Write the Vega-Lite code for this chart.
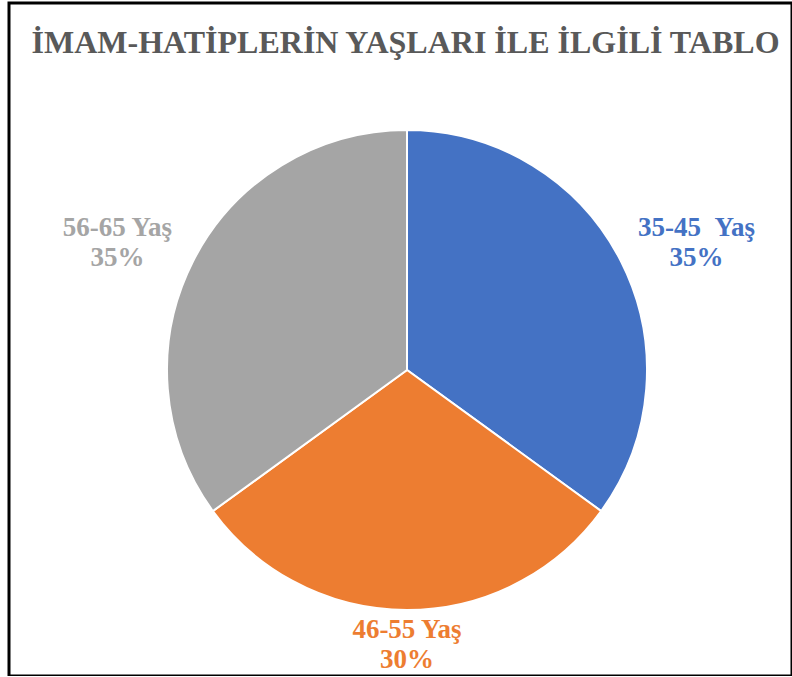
{
  "$schema": "https://vega.github.io/schema/vega-lite/v6.json",
  "width": 783,
  "height": 673,
  "autosize": "none",
  "padding": {"left": 9, "top": 3, "right": 0, "bottom": 0},
  "background": "white",
  "view": {"stroke": null},
  "title": {
    "text": "İMAM-HATİPLERİN YAŞLARI İLE İLGİLİ TABLO",
    "font": "Liberation Serif",
    "fontSize": 32,
    "fontWeight": "bold",
    "color": "#595959",
    "anchor": "middle",
    "frame": "group",
    "offset": -50,
    "baseline": "alphabetic",
    "dx": 5,
    "dy": 33
  },
  "layer": [
    {
      "data": {"values": [{"frame": "border"}]},
      "mark": {"type": "rect", "fill": "transparent", "stroke": "black", "strokeWidth": 3, "x2Offset": 5}
    },
    {
      "data": {"name": "ages"},
      "encoding": {
        "theta": {"field": "value", "type": "quantitative", "stack": true},
        "color": {
          "field": "cat",
          "type": "nominal",
          "scale": {"domain": ["35-45 Yaş", "46-55 Yaş", "56-65 Yaş"], "range": ["#4472C4", "#ED7D31", "#A5A5A5"]},
          "legend": null
        }
      },
      "layer": [
        {
          "mark": {"type": "arc", "outerRadius": 240, "stroke": "white", "strokeWidth": 2, "xOffset": 6.5, "yOffset": 30.5}
        },
        {
          "mark": {
            "type": "text",
            "font": "Liberation Serif",
            "fontSize": 27,
            "fontWeight": "bold",
            "lineBreak": "\n",
            "lineHeight": 30,
            "align": "center",
            "baseline": "middle",
            "xOffset": 6.5,
            "yOffset": 30.5,
            "radius": {"expr": "datum.cat == '46-55 Yaş' ? 260 : 325"},
            "dy": {"expr": "datum.cat == '46-55 Yaş' ? 0 : 6"}
          },
          "encoding": {"text": {"field": "label"}}
        }
      ]
    }
  ],
  "datasets": {
    "ages": [
      {"cat": "35-45 Yaş", "value": 35, "label": "35-45\u00a0\u00a0Yaş\n35%"},
      {"cat": "46-55 Yaş", "value": 30, "label": "46-55 Yaş\n30%"},
      {"cat": "56-65 Yaş", "value": 35, "label": "56-65 Yaş\n35%"}
    ]
  }
}
